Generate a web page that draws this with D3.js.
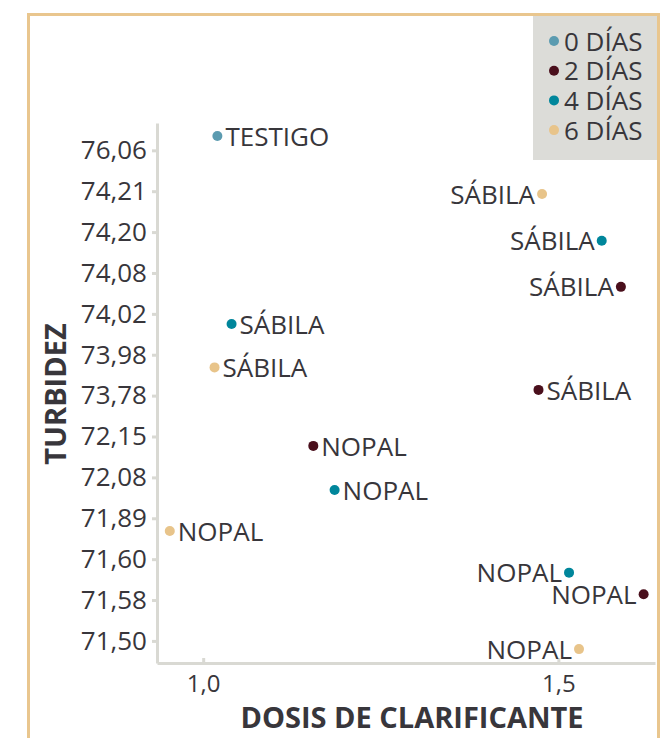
<!DOCTYPE html>
<html>
<head>
<meta charset="utf-8">
<script src="https://cdn.jsdelivr.net/npm/d3@7"></script>
<style>
  body { margin: 0; background: #fff; }
  svg text { font-family: "Open Sans", sans-serif; fill: #38363b; }
</style>
</head>
<body>
<svg width="666" height="738"></svg>
<script>
// leyenda
var categorias = ["0 DÍAS", "2 DÍAS", "4 DÍAS", "6 DÍAS"];
var colores = ["#5b9bb0", "#4a0f1c", "#00869b", "#e8c48a"];

// etiquetas del eje de turbidez (orden de arriba abajo)
var turbidez = ["76,06", "74,21", "74,20", "74,08", "74,02", "73,98", "73,78",
  "72,15", "72,08", "71,89", "71,60", "71,58", "71,50"];

// puntos
var clarificante = ["TESTIGO", "SÁBILA", "SÁBILA", "SÁBILA", "SÁBILA", "SÁBILA", "SÁBILA",
  "NOPAL", "NOPAL", "NOPAL", "NOPAL", "NOPAL", "NOPAL"];
var dias = [0, 6, 4, 2, 4, 6, 2, 2, 4, 6, 4, 2, 6];
var dosis = [1.020, 1.477, 1.561, 1.588, 1.040, 1.016, 1.472, 1.155, 1.185, 0.953, 1.515, 1.620, 1.529];
var rango = [-0.35, 1.07, 2.21, 3.34, 4.25, 5.31, 5.86, 7.23, 8.31, 9.31, 10.33, 10.86, 12.20];
// etiqueta a la izquierda del punto
var izquierda = [false, true, true, true, false, false, false, false, false, false, true, true, true];

var svg = d3.select("svg");

// marco
svg.append("rect")
  .attr("x", 28.5).attr("y", 14.5)
  .attr("width", 630).attr("height", 760)
  .attr("fill", "none")
  .attr("stroke", "#e9c68e")
  .attr("stroke-width", 3);

var x = d3.scaleLinear().domain([0.935, 1.636]).range([157, 655]);
var y = d3.scaleLinear().domain([-0.668, 12.54]).range([123, 663]);

var color = d3.scaleOrdinal().domain([0, 2, 4, 6]).range(colores);

// eje y
var gy = svg.append("g")
  .attr("transform", "translate(157,0)")
  .call(d3.axisLeft(y)
    .tickValues(d3.range(turbidez.length))
    .tickFormat(function(i) { return turbidez[i]; })
    .tickSizeInner(5)
    .tickSizeOuter(0)
    .tickPadding(5));

// eje x
var gx = svg.append("g")
  .attr("transform", "translate(0,663)")
  .call(d3.axisBottom(x)
    .tickValues([1.0, 1.5])
    .tickFormat(function(d) { return d3.format(".1f")(d).replace(".", ","); })
    .tickSizeInner(-5)
    .tickSizeOuter(0)
    .tickPadding(12));

svg.selectAll(".domain, .tick line")
  .attr("stroke", "#d9d9d3")
  .attr("stroke-width", 3);

gy.selectAll(".tick text").style("font-size", "26px").attr("fill", "#38363b");
gx.selectAll(".tick text").style("font-size", "24px").attr("fill", "#38363b");

// títulos
svg.append("text")
  .attr("x", 412).attr("y", 728)
  .attr("text-anchor", "middle")
  .style("font-size", "29px").style("font-weight", "bold")
  .text("DOSIS DE CLARIFICANTE");

svg.append("text")
  .attr("transform", "translate(66,394) rotate(-90)")
  .attr("text-anchor", "middle")
  .style("font-size", "29px").style("font-weight", "bold")
  .text("TURBIDEZ");

// puntos y etiquetas
var puntos = d3.range(dosis.length).map(function(i) {
  return { nombre: clarificante[i], dias: dias[i], dosis: dosis[i], rango: rango[i], izq: izquierda[i] };
});

svg.append("g").selectAll("circle")
  .data(puntos)
  .enter().append("circle")
  .attr("cx", function(d) { return x(d.dosis); })
  .attr("cy", function(d) { return y(d.rango); })
  .attr("r", 5)
  .attr("fill", function(d) { return color(d.dias); });

svg.append("g").selectAll("text")
  .data(puntos)
  .enter().append("text")
  .attr("x", function(d) { return d.izq ? x(d.dosis) - 7 : x(d.dosis) + 8; })
  .attr("y", function(d) { return y(d.rango); })
  .attr("dy", "0.37em")
  .attr("text-anchor", function(d) { return d.izq ? "end" : "start"; })
  .style("font-size", "26px")
  .text(function(d) { return d.nombre; });

// leyenda
var leyenda = svg.append("g");
leyenda.append("rect")
  .attr("x", 533).attr("y", 16)
  .attr("width", 124).attr("height", 144)
  .attr("fill", "#dcdcd8");

var item = leyenda.selectAll("g.item")
  .data(categorias)
  .enter().append("g")
  .attr("class", "item")
  .attr("transform", function(d, i) { return "translate(554," + (41 + i * 29.7) + ")"; });

item.append("circle")
  .attr("r", 5)
  .attr("fill", function(d, i) { return colores[i]; });

item.append("text")
  .attr("x", 10)
  .attr("dy", "0.37em")
  .style("font-size", "26px")
  .text(function(d) { return d; });
</script>
</body>
</html>
